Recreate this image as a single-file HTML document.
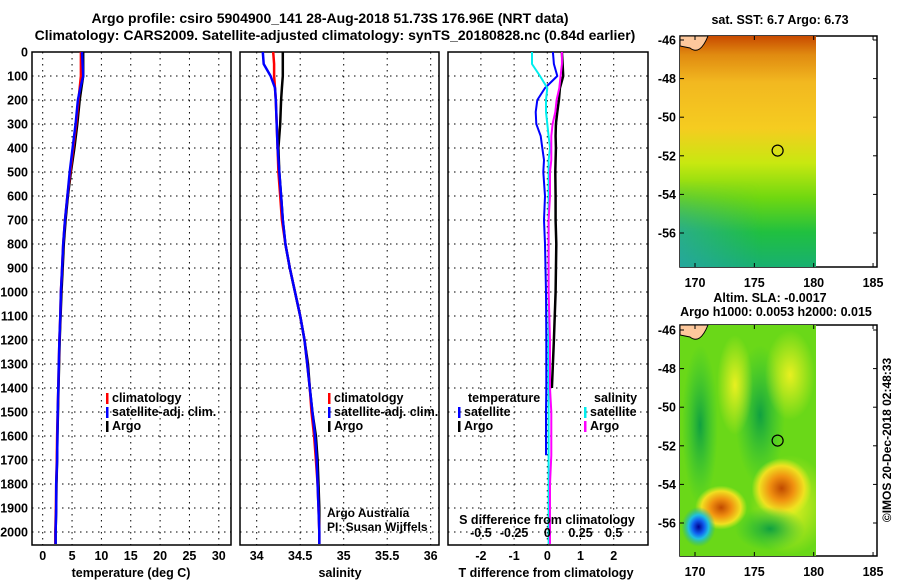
<!DOCTYPE html>
<html><head><meta charset="utf-8"><style>
html,body{margin:0;padding:0;background:#fff;}
svg{display:block;font-family:"Liberation Sans",sans-serif;}
.b{font-weight:bold;font-size:12.5px;}
</style></head><body>
<svg id="c" width="900" height="580" viewBox="0 0 900 580" xmlns="http://www.w3.org/2000/svg">
<defs>
<linearGradient id="sstg" x1="0" y1="0" x2="0" y2="1">
<stop offset="0" stop-color="#c84a00"/><stop offset="0.08" stop-color="#e08a10"/><stop offset="0.2" stop-color="#f2b820"/><stop offset="0.4" stop-color="#f5cc20"/><stop offset="0.55" stop-color="#c8e810"/><stop offset="0.7" stop-color="#70d810"/><stop offset="0.85" stop-color="#20c040"/><stop offset="1" stop-color="#18b070"/>
</linearGradient>
<linearGradient id="sstl" x1="0" y1="0" x2="1" y2="0">
<stop offset="0" stop-color="#30a0c0" stop-opacity="0.55"/><stop offset="0.6" stop-color="#30a0c0" stop-opacity="0"/>
</linearGradient>
<linearGradient id="sstv" x1="0" y1="0" x2="0" y2="1">
<stop offset="0" stop-color="#fff" stop-opacity="0"/><stop offset="0.5" stop-color="#fff" stop-opacity="1"/><stop offset="1" stop-color="#fff" stop-opacity="1"/>
</linearGradient>
<mask id="tm"><rect x="670" y="180" width="220" height="100" fill="url(#sstv)"/></mask>
<clipPath id="cp1"><rect x="680" y="36" width="136" height="231"/></clipPath>
<clipPath id="cp2"><rect x="680" y="325" width="136" height="231"/></clipPath>
<radialGradient id="or"><stop offset="0" stop-color="#c04a00"/><stop offset="0.4" stop-color="#f09010"/><stop offset="0.75" stop-color="#f0e020"/><stop offset="1" stop-color="#e0f020" stop-opacity="0"/></radialGradient>
<radialGradient id="bl"><stop offset="0" stop-color="#000090"/><stop offset="0.35" stop-color="#1060f0"/><stop offset="0.6" stop-color="#20c0e0"/><stop offset="1" stop-color="#20b090" stop-opacity="0"/></radialGradient>
<radialGradient id="gr"><stop offset="0" stop-color="#10a040"/><stop offset="1" stop-color="#20c040" stop-opacity="0"/></radialGradient>
<radialGradient id="yl"><stop offset="0" stop-color="#e8f020"/><stop offset="1" stop-color="#e8f020" stop-opacity="0"/></radialGradient>
</defs>
<text x="330" y="23" text-anchor="middle" style="font-weight:bold;font-size:14px">Argo profile: csiro 5904900_141 28-Aug-2018 51.73S 176.96E (NRT data)</text>
<text x="335" y="40" text-anchor="middle" style="font-weight:bold;font-size:14px">Climatology: CARS2009. Satellite-adjusted climatology: synTS_20180828.nc (0.84d earlier)</text>
<g id="g"></g>
</svg>
<script>
// ---- data ----
const depths = [0,50,100,150,200,300,400,500,600,700,800,900,1000,1100,1200,1300,1400,1500,1600,1700,1800,1900,2000,2050];
const tempArgo = [6.9,6.9,6.9,6.6,6.3,5.9,5.4,4.8,4.3,3.9,3.6,3.4,3.2,3.05,2.9,2.8,2.7,2.6,2.5,2.45,2.35,2.3,2.2,2.2];
const tempClim = [6.5,6.5,6.5,6.3,6.1,5.7,5.2,4.7,4.2,3.8,3.5,3.3,3.1,3.0,2.85,2.75,2.65,2.55,2.45,2.4,2.3,2.25,2.15,2.15];
const tempSat = [6.7,6.8,6.9,6.4,6.0,5.6,5.1,4.6,4.2,3.8,3.5,3.3,3.1,3.0,2.85,2.75,2.65,2.55,2.5,2.45,2.3,2.3,2.2,2.2];
const salArgo = [34.30,34.30,34.30,34.29,34.28,34.27,34.25,34.26,34.28,34.30,34.33,34.38,34.44,34.50,34.55,34.59,34.61,34.64,34.68,34.70,34.71,34.72,34.72,34.72];
const salClim = [34.19,34.20,34.20,34.21,34.22,34.23,34.24,34.25,34.27,34.29,34.33,34.38,34.44,34.50,34.55,34.58,34.61,34.63,34.66,34.68,34.70,34.71,34.72,34.72];
const salSat = [34.07,34.08,34.16,34.21,34.22,34.23,34.24,34.26,34.28,34.30,34.33,34.38,34.44,34.50,34.55,34.58,34.61,34.64,34.67,34.69,34.70,34.71,34.72,34.72];
const diffDepths = [0,50,100,150,200,250,300,350,400,450,500,600,700,800,1000,1200,1400,1500,1680,1800,2000,2050];
const dTsat = [0.17,0.2,0.3,-0.07,-0.3,-0.35,-0.33,-0.2,-0.15,-0.1,-0.12,-0.07,-0.1,-0.07,-0.04,-0.03,-0.03,-0.04,-0.04,null,null,null];
const dTargo = [0.44,0.46,0.48,0.38,0.35,0.3,0.26,0.25,0.26,0.25,0.24,0.25,0.25,0.27,0.25,0.2,0.14,null,null,null,null,null];
const dSsat = [-0.115,-0.115,-0.055,0,-0.01,-0.01,0,0.01,0.02,0.01,0.01,0.01,0.01,0.01,0.01,0.01,0.01,0.01,0.01,0.01,0.01,0.01];
const dSargo = [0.11,0.11,0.1,0.09,0.07,0.06,0.04,0.03,0.03,0.03,0.02,0.02,0.01,0.01,0.01,0.02,0.02,0.03,0.03,0.02,0.02,0.02];
const tTicks = [0,5,10,15,20,25,30];
const sTicks = [34,34.5,35,35.5,36];
const dTicks = [-2,-1,0,1,2];
const dSTickLabels = ["-0.5","-0.25","0","0.25","0.5"];
const depthTicks = [0,100,200,300,400,500,600,700,800,900,1000,1100,1200,1300,1400,1500,1600,1700,1800,1900,2000];
const lonTicks = [170,175,180,185];
const latTicks = [-46,-48,-50,-52,-54,-56];

// ---- scales ----
const yD = d => 52 + d*0.24;
const xT = v => 42.7 + v*5.87;
const xS = v => 256.7 + (v-34)*87;
const xDT = v => 547.3 + v*33.2;
const xDS = v => 547.3 + v*132.8;
const xLon = v => 695 + (v-170)*11.87;
const yLat1 = v => 40 + (-46 - v)*19.3;
const yLat2 = v => 330 + (-46 - v)*19.3;

const NS="http://www.w3.org/2000/svg";
const G=document.getElementById('g');
function el(t,a,txt,p){const e=document.createElementNS(NS,t);for(const k in a)e.setAttribute(k,a[k]);if(txt!==undefined)e.textContent=txt;(p||G).appendChild(e);return e;}

function panel(x0,x1,name,vticks,xf){
  const r=el('rect',{x:x0,y:52,width:x1-x0,height:493,fill:'none',stroke:'#000','stroke-width':1.5});
  
  
  vticks.forEach(v=>{const l=el('line',{x1:xf(v),x2:xf(v),y1:52,y2:545,stroke:'#000','stroke-dasharray':'1.5,4.5','stroke-width':1});
    
    });
  depthTicks.slice(1).forEach(d=>{const l=el('line',{x1:x0,x2:x1,y1:yD(d),y2:yD(d),stroke:'#000','stroke-dasharray':'1.5,4.5','stroke-width':1});
    
    });
}
function line(ds,vs,xf,col,name,w){
  let p='';let pen=false;
  vs.forEach((v,i)=>{if(v===null){pen=false;return;}p+=(pen?'L':'M')+xf(v).toFixed(1)+','+yD(ds[i]).toFixed(1);pen=true;});
  const l=el('path',{d:p,fill:'none',stroke:col,'stroke-width':w||2.5,'stroke-linejoin':'round'});
  
  
}
function txt(x,y,s,name,anchor,cls,extra){
  const a={x:x,y:y,'text-anchor':anchor||'start',class:cls||'b'};Object.assign(a,extra||{});
  const t=el('text',a,s);
  
  
  return t;
}
function leg(x,y,col,s,name){
  const r=el('rect',{x:x,y:y-9,width:2.5,height:11,fill:col});
  
  
  txt(x+6,y,s,name);
}

// panel 1
panel(32,231,'temp-panel',tTicks,xT);
line(depths,tempArgo,xT,'#000','temp-argo-line');
line(depths,tempClim,xT,'#f00','temp-climatology-line');
line(depths,tempSat,xT,'#00f','temp-satellite-line');
depthTicks.forEach(d=>txt(28,yD(d)+4.5,String(d),'depth-tick-label','end'));
tTicks.forEach(v=>txt(xT(v),560,String(v),'temp-tick-label','middle'));
txt(131,577,'temperature (deg C)','temp-axis-title','middle');
leg(106,402,'#f00','climatology','legend-climatology');
leg(106,416,'#00f','satellite-adj. clim.','legend-satellite');
leg(106,430,'#000','Argo','legend-argo');

// panel 2
panel(240,439,'salinity-panel',sTicks,xS);
line(depths,salArgo,xS,'#000','sal-argo-line');
line(depths,salClim,xS,'#f00','sal-climatology-line');
line(depths,salSat,xS,'#00f','sal-satellite-line');
sTicks.forEach(v=>txt(xS(v),560,String(v),'salinity-tick-label','middle'));
txt(340,577,'salinity','salinity-axis-title','middle');
leg(328,402,'#f00','climatology','legend2-climatology');
leg(328,416,'#00f','satellite-adj. clim.','legend2-satellite');
leg(328,430,'#000','Argo','legend2-argo');
txt(327,517,'Argo Australia','credit-argo-australia','start','',{style:'font-size:12px'});
txt(327,531,'PI: Susan Wijffels','credit-pi','start','',{style:'font-size:12px'});

// panel 3
panel(448,648,'difference-panel',dTicks,xDT);
line(diffDepths,dTargo,xDT,'#000','diff-temp-argo-line',2.5);
line(diffDepths,dTsat,xDT,'#00f','diff-temp-satellite-line',2);
line(diffDepths,dSsat,xDS,'#0ee','diff-sal-satellite-line',2);
line(diffDepths,dSargo,xDS,'#f0f','diff-sal-argo-line',2);
dTicks.forEach(v=>txt(xDT(v),560,String(v),'diff-temp-tick-label','middle'));
txt(546,577,'T difference from climatology','diff-temp-axis-title','middle');
txt(547,524,'S difference from climatology','diff-sal-axis-title','middle');
[-0.5,-0.25,0,0.25,0.5].forEach((v,i)=>txt(xDS(v),537,dSTickLabels[i],'diff-sal-tick-label','middle'));
txt(468,402,'temperature','legend3-temperature-heading');
leg(458,416,'#00f','satellite','legend3-temp-satellite');
leg(458,430,'#000','Argo','legend3-temp-argo');
txt(594,402,'salinity','legend3-salinity-heading');
leg(584,416,'#0ee','satellite','legend3-sal-satellite');
leg(584,430,'#f0f','Argo','legend3-sal-argo');

// maps
function map(y0,yLat,name,kind){
  const fr=el('rect',{x:680,y:y0,width:197,height:231,fill:'#fff',stroke:'#000','stroke-width':1.5});
  
  
  const g=el('g',{'clip-path':kind==='sst'?'url(#cp1)':'url(#cp2)'});
  
  
  const w=136;
  if(kind==='sst'){
    el('rect',{x:680,y:y0,width:w,height:231,fill:'url(#sstg)'},undefined,g);
    el('rect',{x:680,y:y0+140,width:w,height:91,fill:'url(#sstl)',mask:'url(#tm)'},undefined,g);
  } else {
    el('rect',{x:680,y:y0,width:w,height:231,fill:'#6ad818'},undefined,g);
    el('ellipse',{cx:700,cy:y0+100,rx:18,ry:80,fill:'url(#gr)'},undefined,g);
    el('ellipse',{cx:760,cy:y0+90,rx:25,ry:70,fill:'url(#gr)'},undefined,g);
    el('ellipse',{cx:735,cy:y0+60,rx:18,ry:50,fill:'url(#yl)'},undefined,g);
    el('ellipse',{cx:790,cy:y0+50,rx:25,ry:45,fill:'url(#yl)'},undefined,g);
    el('ellipse',{cx:790,cy:y0+180,rx:40,ry:50,fill:'url(#yl)'},undefined,g);
    el('ellipse',{cx:xLon(177.3),cy:yLat(-54.2),rx:30,ry:30,fill:'url(#or)'},undefined,g);
    el('ellipse',{cx:xLon(172.2),cy:yLat(-55.2),rx:26,ry:22,fill:'url(#or)'},undefined,g);
    el('ellipse',{cx:770,cy:yLat(-56.3),rx:35,ry:22,fill:'url(#gr)'},undefined,g);
    el('ellipse',{cx:xLon(170.3),cy:yLat(-56.2),rx:17,ry:20,fill:'url(#bl)'},undefined,g);
  }
  const ld=el('path',{d:`M680,${y0} L708,${y0} Q700,${y0+20} 690,${y0+12} L680,${y0+10} Z`,fill:'#fdc89c',stroke:'#000','stroke-width':1});
  
  
  const c=el('circle',{cx:xLon(176.96),cy:yLat(-51.73),r:5.5,fill:'none',stroke:'#000','stroke-width':1.2});
  
  
  lonTicks.forEach(v=>{
    el('line',{x1:xLon(v),x2:xLon(v),y1:y0,y2:y0+4,stroke:'#000'});
    el('line',{x1:xLon(v),x2:xLon(v),y1:y0+231,y2:y0+227,stroke:'#000'});
    txt(xLon(v),y0+251,String(v),name+'-lon-label','middle');
  });
  latTicks.forEach(v=>{
    el('line',{x1:877,x2:873,y1:yLat(v),y2:yLat(v),stroke:'#000'});
    el('line',{x1:680,x2:684,y1:yLat(v),y2:yLat(v),stroke:'#000'});
    txt(676,yLat(v)+4.5,String(v),name+'-lat-label','end');
  });
}
map(36,yLat1,'sst-map','sst');
map(325,yLat2,'sla-map','sla');
txt(780,24,'sat. SST: 6.7 Argo: 6.73','sst-map-title','middle');
txt(770,302,'Altim. SLA: -0.0017','sla-map-title','middle');
txt(776,316,'Argo h1000: 0.0053 h2000: 0.015','sla-map-subtitle','middle');
txt(0,0,'©IMOS 20-Dec-2018 02:48:33','timestamp','middle','',{style:'font-size:12px',transform:'translate(891,440) rotate(-90)'});
</script>
</body></html>
